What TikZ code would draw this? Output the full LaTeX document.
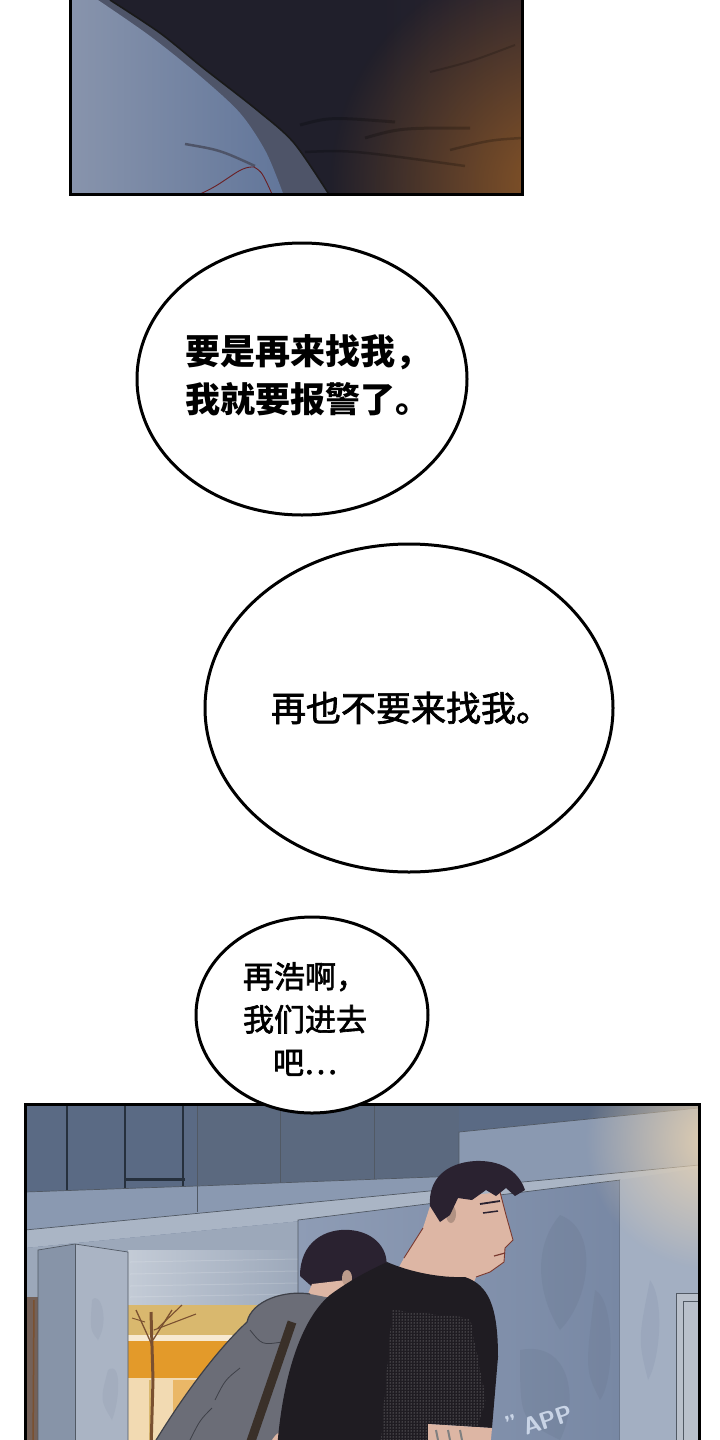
\documentclass[tikz,border=0pt]{standalone}
\usepackage{fontspec}
\newfontfamily\cjk{Noto Sans CJK SC}
\newfontfamily\cjkmid{Noto Sans CJK SC}[FakeBold=2]
\usepackage{tikz}
\usetikzlibrary{positioning}
\usetikzlibrary{shapes.geometric}
\usetikzlibrary{patterns}
\usetikzlibrary{fadings}
\definecolor{nightdark}{HTML}{201F2B}
\definecolor{glowbrown}{HTML}{8A5626}
\definecolor{dusk}{HTML}{3A2C36}
\definecolor{band}{HTML}{4E5468}
\definecolor{skyhi}{HTML}{8894AC}
\definecolor{skylo}{HTML}{62769A}
\definecolor{darkred}{HTML}{6A1E22}
\definecolor{wallblue}{HTML}{6B7B95}
\definecolor{windowblue}{HTML}{5A6A84}
\definecolor{mullion}{HTML}{26303D}
\definecolor{ledge}{HTML}{8A99B1}
\definecolor{underside}{HTML}{AAB5C5}
\definecolor{backwall}{HTML}{9CA8BA}
\definecolor{pillarfront}{HTML}{AAB4C4}
\definecolor{pillarside}{HTML}{8794A8}
\definecolor{blockhi}{HTML}{8E9CB5}
\definecolor{blocklo}{HTML}{7888A4}
\definecolor{rightpillar}{HTML}{A3AFC2}
\definecolor{warmglow}{HTML}{EED6B2}
\definecolor{doorframe}{HTML}{B9C0CB}
\definecolor{doorpale}{HTML}{D9B86E}
\definecolor{doorglow}{HTML}{E39A2A}
\definecolor{doorcream}{HTML}{F2DAB2}
\definecolor{treebrown}{HTML}{7A5030}
\definecolor{hoodie}{HTML}{6B6D77}
\definecolor{hoodiedark}{HTML}{3E4048}
\definecolor{strap}{HTML}{3A3029}
\definecolor{hair}{HTML}{2A2230}
\definecolor{shirt}{HTML}{1F1C22}
\definecolor{skin}{HTML}{DDB6A4}
\definecolor{skinline}{HTML}{7A3A30}
\definecolor{wmark}{HTML}{C9D4E6}
\tikzfading[name=glowfade, inner color=transparent!0, outer color=transparent!100]
\tikzstyle{bubble} = [ellipse, draw=black, fill=white, line width=3pt, inner sep=0pt]
\tikzstyle{say1} = [align=center, text=black, inner sep=0pt, font=\cjk\bfseries\fontsize{35}{48}\selectfont]
\tikzstyle{say2} = [align=center, text=black, inner sep=0pt, font=\cjkmid\fontsize{35}{48}\selectfont]
\tikzstyle{say3} = [align=center, text=black, inner sep=0pt, font=\cjkmid\fontsize{31}{43}\selectfont]
\tikzstyle{stamp} = [rotate=18, text=wmark, inner sep=0pt, font=\sffamily\bfseries\fontsize{24}{24}\selectfont]
\tikzstyle{frame} = [draw=black, line width=3pt]
\tikzstyle{edge} = [draw=mullion!80, line width=0.7pt]

\begin{document}
\begin{tikzpicture}[x=1pt, y=-1pt]
\useasboundingbox (0,0) rectangle (720,1440);
\fill[white] (0,0) rectangle (720,1440);

\begin{scope}
\clip (70,-10) rectangle (522,194);
\fill[nightdark] (70,-10) rectangle (380,194);
\shade[left color=nightdark, right color=nightdark!60!dusk] (380,-10) rectangle (522,194);
\fill[glowbrown, path fading=glowfade] (560,185) circle (230);
\fill[band] (105,-10) -- plot[smooth] coordinates {(110,0) (160,33) (202,67) (257,110) (294,143) (330,196)} -- (70,196) -- (70,-10) -- cycle;
\shade[left color=skyhi, right color=skylo] (95,-10) -- plot[smooth] coordinates {(98,0) (150,36) (200,76) (240,113) (266,152) (284,196)} -- (70,196) -- (70,-10) -- cycle;
\draw[black!90, line width=1.6pt] plot[smooth] coordinates {(110,0) (160,33) (202,67) (257,110) (294,143) (330,196)};
\draw[black, line width=3pt, opacity=0.22] (300,125) .. controls (330,117) .. (395,122);
\draw[black, line width=3pt, opacity=0.22] (365,138) .. controls (400,128) .. (470,128);
\draw[black, line width=2.5pt, opacity=0.22] (305,152) .. controls (350,150) .. (465,166);
\draw[black, line width=2.5pt, opacity=0.22] (450,150) .. controls (490,140) .. (522,138);
\draw[black, line width=2pt, opacity=0.18] (430,72) .. controls (470,62) .. (515,45);
\draw[band, line width=2.5pt] (185,144) .. controls (220,150) .. (255,166);
\draw[darkred, line width=0.9pt] (200,194) .. controls (228,182) and (238,166) .. (254,167) .. controls (262,172) .. (272,194);
\end{scope}
\draw[frame] (70,-10) rectangle (522,194);

\node[bubble, minimum width=330pt, minimum height=272pt] (talk1) at (302,379) {};
\node[say1] (line1) at ([xshift=6pt, yshift=4pt]talk1.center) {要是再来找我，\\我就要报警了。};
\node[bubble, minimum width=408pt, minimum height=328pt] (talk2) at (409,708) {};
\node[say2] (line2) at ([xshift=2pt]talk2.center) {再也不要来找我。};

\begin{scope}
\clip (25,1104) rectangle (699,1450);
\fill[wallblue] (25,1100) rectangle (699,1450);
\fill[windowblue] (25,1100) rectangle (197,1192);
\fill[wallblue!85!black] (197,1100) -- (459,1100) -- (459,1176) -- (197,1186) -- cycle;
\fill[windowblue] (459,1100) -- (699,1100) -- (699,1108) -- (459,1132) -- cycle;
\foreach \x in {67,125,183} \draw[mullion, line width=2.5pt] (\x,1100) -- (\x,1190);
\draw[mullion, line width=3pt] (125,1179) -- (185,1179);
\foreach \x in {197,280,374} \draw[edge] (\x,1100) -- (\x,1186);
\fill[ledge] (25,1192) -- (197,1186) -- (459,1176) -- (459,1132) -- (699,1108) -- (699,1165) -- (25,1230) -- cycle;
\draw[edge] (25,1192) -- (197,1186) -- (459,1176) -- (459,1132) -- (699,1108);
\draw[edge] (197,1186) -- (197,1212);
\draw[edge] (459,1176) -- (459,1190);
\fill[underside] (25,1230) -- (699,1165) -- (699,1182) -- (25,1248) -- cycle;
\draw[edge] (25,1230) -- (699,1165);
\fill[backwall] (25,1248) -- (699,1182) -- (699,1450) -- (25,1450) -- cycle;
\shade[left color=underside!70!white, right color=backwall] (128,1250) rectangle (300,1307);
\foreach \y in {1262,1274,1286,1297} \draw[white, opacity=0.15, line width=1pt] (130,\y) -- (298,\y-3);

\fill[doorpale] (128,1305) rectangle (300,1335);
\fill[doorcream!60!white] (128,1335) rectangle (300,1341);
\fill[doorglow] (128,1341) rectangle (300,1378);
\fill[doorcream] (128,1378) rectangle (300,1450);
\fill[doorglow!55!doorcream] (173,1380) rectangle (210,1450);
\draw[doorpale, line width=1.5pt] (150,1380) -- (150,1450);
\draw[treebrown, line width=3pt] (151,1450) -- (153,1380) -- (151,1312);
\draw[treebrown, line width=1.3pt] (152,1345) -- (136,1310);
\draw[treebrown, line width=1.3pt] (153,1340) -- (172,1310);
\draw[treebrown, line width=1.1pt] (154,1330) -- (196,1314);
\draw[treebrown, line width=1.1pt] (158,1328) -- (182,1305);
\draw[treebrown, line width=0.9pt] (145,1322) -- (132,1318);

\fill[treebrown!60!wallblue] (25,1297) rectangle (38,1450);
\draw[treebrown, line width=1.5pt] (33,1450) -- (34,1300);
\fill[pillarside] (38,1250) -- (75,1244) -- (75,1450) -- (38,1450) -- cycle;
\fill[pillarfront] (75,1244) -- (128,1252) -- (128,1450) -- (75,1450) -- cycle;
\draw[edge] (38,1450) -- (38,1250) -- (75,1244) -- (128,1252) -- (128,1450);
\draw[edge] (75,1244) -- (75,1450);
\fill[pillarside, opacity=0.2] (92,1300) .. controls (100,1290) and (110,1320) .. (98,1340) .. controls (90,1330) .. (92,1300);
\fill[pillarside, opacity=0.2] (108,1370) .. controls (122,1360) and (120,1400) .. (112,1420) .. controls (100,1400) .. (108,1370);

\shade[left color=blockhi, right color=blocklo] (298,1220) -- (620,1180) -- (620,1450) -- (298,1450) -- cycle;
\draw[edge] (298,1450) -- (298,1220) -- (620,1180) -- (620,1450);
\fill[blocklo!75!black, opacity=0.15] (560,1215) .. controls (600,1230) and (590,1300) .. (560,1330) .. controls (540,1300) and (530,1250) .. (560,1215);
\fill[blocklo!75!black, opacity=0.15] (520,1350) .. controls (570,1340) and (580,1400) .. (560,1440) .. controls (520,1420) .. (520,1350);
\fill[blocklo!75!black, opacity=0.12] (595,1290) .. controls (615,1300) and (615,1380) .. (600,1400) .. controls (585,1370) .. (595,1290);
\fill[rightpillar] (620,1180) -- (699,1168) -- (699,1450) -- (620,1450) -- cycle;
\fill[blocklo, opacity=0.18] (650,1280) .. controls (665,1300) and (660,1360) .. (648,1380) .. controls (638,1340) .. (650,1280);
\fill[doorframe] (676,1293) rectangle (699,1450);
\draw[edge] (676,1450) -- (676,1293) -- (699,1293);
\draw[edge] (683,1450) -- (683,1301) -- (699,1301);
\fill[warmglow, path fading=glowfade, opacity=0.9] (715,1140) circle (130);

\fill[hair] (300,1276) .. controls (300,1242) and (325,1228) .. (350,1230) .. controls (375,1232) and (390,1250) .. (386,1270) -- (368,1292) -- (318,1292) -- cycle;
\fill[skin] (312,1284) -- (346,1280) -- (342,1302) -- (304,1304) -- cycle;
\fill[skin!85!black] (347,1278) ellipse (5 and 8);
\fill[hoodie] (247,1322) .. controls (252,1300) and (285,1290) .. (310,1294) -- (336,1299) -- (318,1330) -- (296,1390) -- (282,1450) -- (150,1450) .. controls (180,1400) and (215,1352) .. (247,1322) -- cycle;
\draw[hoodiedark, line width=1.2pt] (150,1450) .. controls (180,1400) and (215,1352) .. (247,1322) .. controls (252,1300) and (285,1290) .. (310,1294);
\draw[hoodiedark, line width=0.8pt] (250,1330) .. controls (262,1345) .. (282,1342);
\draw[hoodiedark, line width=0.8pt] (215,1400) .. controls (225,1380) .. (240,1368);
\draw[hoodiedark, line width=0.8pt] (190,1440) .. controls (200,1420) .. (212,1408);
\draw[strap, line width=9pt] (292,1322) -- (248,1450);
\fill[skin] (268,1450) .. controls (272,1432) and (288,1424) .. (300,1430) -- (302,1450) -- cycle;

\fill[skin] (423,1228) -- (432,1200) -- (500,1192) -- (506,1215) -- (513,1240) -- (505,1248) -- (504,1262) -- (490,1272) -- (476,1277) -- (470,1292) -- (392,1280) -- (404,1258) -- cycle;
\draw[skinline, line width=0.9pt] (423,1228) -- (404,1258);
\draw[skinline, line width=0.9pt] (500,1192) -- (506,1215) -- (513,1240) -- (505,1248) -- (504,1262) -- (490,1272) -- (476,1277);
\fill[skin!80!black] (451,1214) ellipse (5 and 9);
\fill[hair] (430,1206) .. controls (428,1180) and (445,1163) .. (475,1161) .. controls (500,1160) and (518,1170) .. (525,1190) -- (515,1196) -- (506,1188) -- (496,1196) -- (486,1190) -- (472,1200) -- (458,1198) -- (450,1215) -- (440,1222) -- cycle;
\draw[hair, line width=1.8pt] (480,1204) -- (500,1201);
\draw[hair, line width=1.5pt] (483,1213) -- (498,1211);
\draw[skinline, line width=1.2pt] (494,1256) -- (505,1253);
\fill[shirt] (387,1262) .. controls (410,1272) and (440,1278) .. (465,1277) .. controls (488,1285) and (498,1305) .. (498,1357) -- (492,1428) -- (428,1424) -- (428,1450) -- (277,1450) .. controls (282,1380) and (300,1320) .. (330,1295) .. controls (350,1280) and (370,1270) .. (387,1262) -- cycle;
\fill[pattern=dots, pattern color=gray!60] (392,1310) -- (470,1318) -- (486,1400) -- (470,1450) -- (380,1450) -- cycle;
\fill[skin] (428,1424) -- (492,1428) -- (490,1450) -- (428,1450) -- cycle;
\foreach \x in {436,448,460} \draw[gray, line width=2pt] (\x,1430) -- (\x+3,1445);

\node[stamp] (quote) at (512,1424) {”};
\node[stamp] (app) at (548,1420) {APP};
\end{scope}
\draw[frame] (25,1104) rectangle (699,1460);

\node[bubble, minimum width=232pt, minimum height=196pt] (talk3) at (312,1015) {};
\node[say3] (line3) at ([xshift=-7pt, yshift=-4pt]talk3.center) {再浩啊，\\我们进去\\吧…};
\end{tikzpicture}
\end{document}
